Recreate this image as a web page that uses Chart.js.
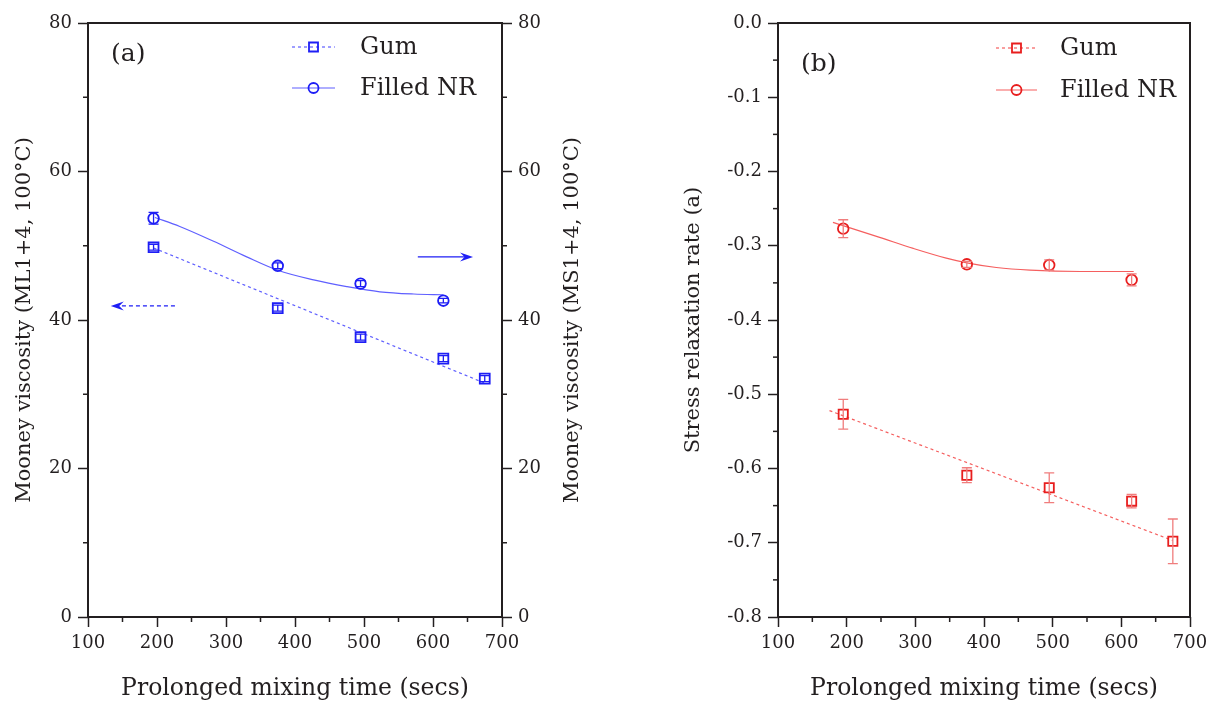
<!DOCTYPE html>
<html>
<head>
<meta charset="utf-8">
<title>Mooney viscosity and stress relaxation vs. mixing time</title>
<script src="https://cdn.jsdelivr.net/npm/chart.js@4.4.0/dist/chart.umd.min.js"></script>
<style>
  body { margin: 0; background: #fff; width: 1214px; height: 709px; overflow: hidden; position: relative; }
  .panel { position: absolute; top: 0; height: 709px; }
  #panelA { left: 0; width: 607px; }
  #panelB { left: 607px; width: 607px; }
</style>
</head>
<body>
<div class="panel" id="panelA"><canvas id="chartA"></canvas></div>
<div class="panel" id="panelB"><canvas id="chartB"></canvas></div>

<script>
// Prolonged mixing times (secs)
const timesGum = [195, 375, 495, 615, 675];
const timesFilled = [195, 375, 495, 615];

// (a) Mooney viscosity, gum on ML1+4 (left axis), filled NR on MS1+4 (right axis)
const mooneyGum = [49.8, 41.6, 37.7, 34.8, 32.1];
const mooneyGumErr = [0.4, 0.4, 0.4, 0.4, 0.4];
const mooneyFilled = [53.7, 47.3, 44.9, 42.6];
const mooneyFilledErr = [0.8, 0.4, 0.4, 0.3];

// (a) fitted trends
const mooneyGumFitX = [195, 675];
const mooneyGumFitY = [49.7, 31.5];
const mooneyFilledFitX = [197, 233, 282, 330, 375, 427, 475, 523, 572, 615];
const mooneyFilledFitY = [53.8, 52.6, 50.6, 48.5, 46.7, 45.4, 44.5, 43.8, 43.5, 43.4];

// (b) stress relaxation rate
const srrGum = [-0.527, -0.609, -0.626, -0.644, -0.698];
const srrGumErr = [0.020, 0.010, 0.020, 0.009, 0.030];
const srrFilled = [-0.277, -0.325, -0.326, -0.346];
const srrFilledErr = [0.012, 0.004, 0.007, 0.008];

// (b) fitted trends
const srrGumFitX = [175, 675];
const srrGumFitY = [-0.522, -0.697];
const srrFilledFitX = [180, 248, 297, 345, 375, 418, 467, 540, 618];
const srrFilledFitY = [-0.2685, -0.2887, -0.3036, -0.3167, -0.323, -0.3293, -0.3329, -0.3347, -0.3347];

const ink = '#231f20';
const serif = "'DejaVu Serif', serif";
const blue = 'rgb(30,30,245)';
const blueLine = 'rgb(95,95,255)';
const red = 'rgb(232,30,30)';
const redLine = 'rgb(245,95,95)';
const redErr = 'rgb(240,125,125)';

function pts(xs, ys) {
  return xs.map((x, i) => ({ x: x, y: ys[i] }));
}

function drawMarker(ctx, style, x, y, r, color) {
  ctx.save();
  ctx.strokeStyle = color;
  ctx.lineWidth = 1.8;
  ctx.beginPath();
  if (style === 'rect') ctx.rect(x - r, y - r, 2 * r, 2 * r);
  else ctx.arc(x, y, r, 0, Math.PI * 2);
  ctx.stroke();
  ctx.restore();
}

function drawArrow(ctx, x1, y1, x2, y2, dash, color) {
  const dir = Math.sign(x2 - x1);
  const head = 13;
  ctx.save();
  ctx.strokeStyle = color;
  ctx.fillStyle = color;
  ctx.lineWidth = 1.3;
  ctx.setLineDash(dash);
  ctx.beginPath();
  ctx.moveTo(x1, y1);
  ctx.lineTo(x2 - dir * head * 0.6, y2);
  ctx.stroke();
  ctx.setLineDash([]);
  ctx.beginPath();
  ctx.moveTo(x2, y2);
  ctx.lineTo(x2 - dir * head, y2 - 4.5);
  ctx.lineTo(x2 - dir * head * 0.65, y2);
  ctx.lineTo(x2 - dir * head, y2 + 4.5);
  ctx.closePath();
  ctx.fill();
  ctx.restore();
}

// frame, minor ticks, error bars, arrows, legend and panel letter
function decorPlugin(cfg) {
  return {
    id: 'decor',
    afterDatasetsDraw(chart) {
      const ctx = chart.ctx;
      chart.data.datasets.forEach(ds => {
        if (!ds.errors) return;
        const yScale = chart.scales[ds.yAxisID];
        const xScale = chart.scales.x;
        ctx.save();
        ctx.strokeStyle = ds.errorColor || ds.borderColor;
        ctx.lineWidth = 1.3;
        ds.data.forEach((p, j) => {
          const e = ds.errors[j];
          const px = xScale.getPixelForValue(p.x);
          const top = yScale.getPixelForValue(p.y + e);
          const bot = yScale.getPixelForValue(p.y - e);
          ctx.beginPath();
          ctx.moveTo(px, top); ctx.lineTo(px, bot);
          ctx.moveTo(px - 5, top); ctx.lineTo(px + 5, top);
          ctx.moveTo(px - 5, bot); ctx.lineTo(px + 5, bot);
          ctx.stroke();
        });
        ctx.restore();
      });
    },
    afterDraw(chart) {
      const ctx = chart.ctx;
      const a = chart.chartArea;

      // box round the plot
      ctx.save();
      ctx.strokeStyle = ink;
      ctx.lineWidth = 2;
      ctx.strokeRect(a.left, a.top, a.right - a.left, a.bottom - a.top);

      // minor ticks between the labelled ones
      ctx.lineWidth = 1.5;
      Object.keys(cfg.minor).forEach(id => {
        const s = chart.scales[id];
        const step = cfg.minor[id];
        const n = Math.round((s.max - s.min) / step);
        for (let i = 1; i < n; i += 2) {
          const p = s.getPixelForValue(s.min + i * step);
          ctx.beginPath();
          if (id === 'x') { ctx.moveTo(p, a.bottom); ctx.lineTo(p, a.bottom + 5); }
          else if (s.position === 'left') { ctx.moveTo(a.left - 5, p); ctx.lineTo(a.left, p); }
          else { ctx.moveTo(a.right, p); ctx.lineTo(a.right + 5, p); }
          ctx.stroke();
        }
      });
      ctx.restore();

      (cfg.arrows || []).forEach(ar => {
        const xs = chart.scales.x, ys = chart.scales[ar.axis];
        drawArrow(ctx,
          xs.getPixelForValue(ar.from[0]), ys.getPixelForValue(ar.from[1]),
          xs.getPixelForValue(ar.to[0]), ys.getPixelForValue(ar.to[1]),
          ar.dash, ar.color);
      });

      // right-hand axis title, reading upwards like the left one
      if (cfg.sideTitle) {
        ctx.save();
        ctx.translate(cfg.sideTitle.x, (a.top + a.bottom) / 2);
        ctx.rotate(-Math.PI / 2);
        ctx.font = '21px ' + serif;
        ctx.fillStyle = ink;
        ctx.textAlign = 'center';
        ctx.textBaseline = 'middle';
        ctx.fillText(cfg.sideTitle.text, 0, 0);
        ctx.restore();
      }

      // legend
      ctx.save();
      ctx.font = '24px ' + serif;
      ctx.textBaseline = 'middle';
      ctx.fillStyle = ink;
      cfg.legend.forEach(item => {
        ctx.save();
        ctx.strokeStyle = item.lineColor;
        ctx.lineWidth = 1.2;
        ctx.setLineDash(item.dash);
        ctx.beginPath();
        ctx.moveTo(item.x1, item.y); ctx.lineTo(item.x2, item.y);
        ctx.stroke();
        ctx.restore();
        drawMarker(ctx, item.style, (item.x1 + item.x2) / 2, item.y, item.r, item.color);
        ctx.fillText(item.text, item.tx, item.y + 1);
      });
      ctx.font = '25px ' + serif;
      ctx.fillText(cfg.panel.text, cfg.panel.x, cfg.panel.y);
      ctx.restore();
    }
  };
}

function tickFont() { return { family: serif, size: 18 }; }

function xAxis() {
  return {
    type: 'linear', position: 'bottom', min: 100, max: 700,
    afterFit(s) { s.height = 92; },
    ticks: { stepSize: 100, font: tickFont(), color: ink, padding: 6, maxRotation: 0, autoSkip: false },
    grid: { drawOnChartArea: false, tickLength: 10, tickColor: ink, tickWidth: 1.5 },
    border: { display: false },
    title: { display: true, text: 'Prolonged mixing time (secs)', font: { family: serif, size: 23.5 }, color: ink, padding: { top: 0, bottom: 6 } }
  };
}

function yAxis(pos, min, max, step, width, title, titlePad, fmt) {
  return {
    type: 'linear', position: pos, min: min, max: max,
    afterFit(s) { s.width = width; },
    ticks: { stepSize: step, font: tickFont(), color: ink, padding: 6, callback: fmt },
    grid: { drawOnChartArea: false, tickLength: 10, tickColor: ink, tickWidth: 1.5 },
    border: { display: false },
    title: { display: !!title, text: title, font: { family: serif, size: 21 }, color: ink, padding: { top: titlePad, bottom: 0 } }
  };
}

const baseOptions = {
  responsive: true,
  maintainAspectRatio: false,
  animation: false,
  plugins: { legend: { display: false }, tooltip: { enabled: false } }
};

// (a) Mooney viscosity
new Chart(document.getElementById('chartA'), {
  type: 'scatter',
  data: {
    datasets: [
      {
        label: 'Gum', data: pts(timesGum, mooneyGum), errors: mooneyGumErr, yAxisID: 'y',
        pointStyle: 'rect', pointRadius: 7, pointBorderWidth: 1.8,
        borderColor: blue, backgroundColor: 'rgba(0,0,0,0)', order: 0
      },
      {
        label: 'Gum fit', type: 'line', data: pts(mooneyGumFitX, mooneyGumFitY), yAxisID: 'y',
        borderColor: blueLine, borderWidth: 1.2, borderDash: [3, 3], pointRadius: 0, order: 1
      },
      {
        label: 'Filled NR', data: pts(timesFilled, mooneyFilled), errors: mooneyFilledErr, yAxisID: 'y2',
        pointStyle: 'circle', pointRadius: 5.3, pointBorderWidth: 1.8,
        borderColor: blue, backgroundColor: 'rgba(0,0,0,0)', order: 0
      },
      {
        label: 'Filled NR fit', type: 'line', data: pts(mooneyFilledFitX, mooneyFilledFitY), yAxisID: 'y2',
        borderColor: blueLine, borderWidth: 1.2, pointRadius: 0, cubicInterpolationMode: 'monotone', order: 1
      }
    ]
  },
  options: Object.assign({}, baseOptions, {
    layout: { padding: { top: 23, left: 0, right: 0, bottom: 0 } },
    scales: {
      x: xAxis(),
      y: yAxis('left', 0, 80, 20, 88, 'Mooney viscosity (ML1+4, 100°C)', 12, v => v),
      y2: yAxis('right', 0, 80, 20, 105, '', 0, v => v)
    }
  }),
  plugins: [decorPlugin({
    minor: { x: 50, y: 10, y2: 10 },
    arrows: [
      { axis: 'y', from: [226, 41.9], to: [133, 41.9], dash: [4, 3], color: blue },
      { axis: 'y2', from: [578, 48.5], to: [658, 48.5], dash: [], color: blue }
    ],
    sideTitle: { text: 'Mooney viscosity (MS1+4, 100°C)', x: 573 },
    legend: [
      { x1: 292, x2: 335, y: 47, dash: [3, 3], lineColor: blueLine, style: 'rect', r: 4.5, color: blue, text: 'Gum', tx: 360 },
      { x1: 292, x2: 335, y: 88, dash: [], lineColor: blueLine, style: 'circle', r: 5, color: blue, text: 'Filled NR', tx: 360 }
    ],
    panel: { text: '(a)', x: 111, y: 54 }
  })]
});

// (b) stress relaxation rate
new Chart(document.getElementById('chartB'), {
  type: 'scatter',
  data: {
    datasets: [
      {
        label: 'Gum', data: pts(timesGum, srrGum), errors: srrGumErr, errorColor: redErr, yAxisID: 'y',
        pointStyle: 'rect', pointRadius: 6.5, pointBorderWidth: 1.8,
        borderColor: red, backgroundColor: 'rgba(0,0,0,0)', order: 0
      },
      {
        label: 'Gum fit', type: 'line', data: pts(srrGumFitX, srrGumFitY), yAxisID: 'y',
        borderColor: redLine, borderWidth: 1.2, borderDash: [3, 3], pointRadius: 0, order: 1
      },
      {
        label: 'Filled NR', data: pts(timesFilled, srrFilled), errors: srrFilledErr, errorColor: redErr, yAxisID: 'y',
        pointStyle: 'circle', pointRadius: 5.3, pointBorderWidth: 1.8,
        borderColor: red, backgroundColor: 'rgba(0,0,0,0)', order: 0
      },
      {
        label: 'Filled NR fit', type: 'line', data: pts(srrFilledFitX, srrFilledFitY), yAxisID: 'y',
        borderColor: redLine, borderWidth: 1.2, pointRadius: 0, cubicInterpolationMode: 'monotone', order: 1
      }
    ]
  },
  options: Object.assign({}, baseOptions, {
    layout: { padding: { top: 23, left: 0, right: 24, bottom: 0 } },
    scales: {
      x: xAxis(),
      y: yAxis('left', -0.8, 0, 0.1, 171, 'Stress relaxation rate (a)', 74, v => Number(v).toFixed(1))
    }
  }),
  plugins: [decorPlugin({
    minor: { x: 50, y: 0.05 },
    legend: [
      { x1: 389, x2: 430, y: 48, dash: [3, 3], lineColor: redLine, style: 'rect', r: 4.5, color: red, text: 'Gum', tx: 453 },
      { x1: 389, x2: 430, y: 90, dash: [], lineColor: redLine, style: 'circle', r: 5, color: red, text: 'Filled NR', tx: 453 }
    ],
    panel: { text: '(b)', x: 194, y: 64 }
  })]
});
</script>
</body>
</html>
